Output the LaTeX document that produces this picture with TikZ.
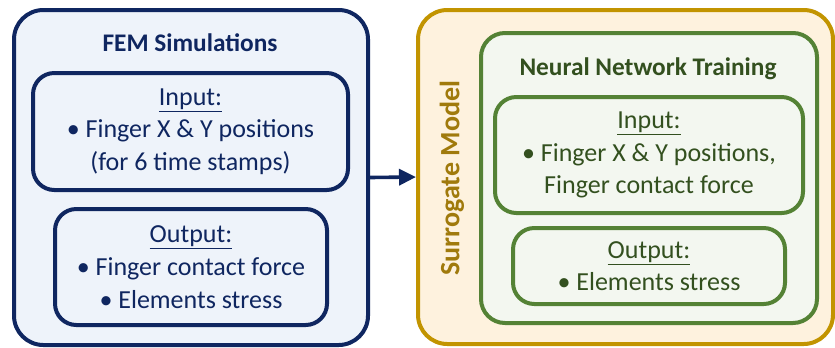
\documentclass[tikz,border=0pt]{standalone}
\usepackage{fontspec}
\setmainfont{Carlito}
\usepackage{tikz}
\usetikzlibrary{positioning,arrows.meta}
\definecolor{femnavy}{HTML}{0F2660}
\definecolor{femfill}{HTML}{EEF3FA}
\definecolor{surrgold}{HTML}{C29400}
\definecolor{surrtext}{HTML}{A07A0C}
\definecolor{surrfill}{HTML}{FEF2DE}
\definecolor{nngreen}{HTML}{548235}
\definecolor{nntext}{HTML}{33501F}
\definecolor{nnfill}{HTML}{F3F7F0}

\begin{document}
\begin{tikzpicture}[x=0.75pt, y=-0.75pt,
    frame/.style={draw, line width=3pt, rounded corners=22pt},
    box/.style={draw, line width=3pt, rounded corners=16pt, align=center,
                font=\fontsize{19.5}{24.5}\selectfont},
    title/.style={font=\fontsize{19}{22}\selectfont\bfseries},
    flow/.style={line width=2.7pt, -{Triangle[length=12.75pt, width=12pt]}},
]
\useasboundingbox (0,0) rectangle (835,347);

% FEM side
\node[frame, draw=femnavy, fill=femfill, minimum width=265.5pt,
      minimum height=251.25pt] (fem) at (191,177.5) {};
\node[title, text=femnavy] (femtitle) at (190,43) {FEM Simulations};
\node[box, draw=femnavy, text=femnavy, minimum width=236.25pt,
      minimum height=87.75pt] (femin) at (190.5,131.5)
    {\underline{Input:}\\ \textbullet{} Finger X \& Y positions\\ (for 6 time stamps)};
\node[box, draw=femnavy, text=femnavy, minimum width=204pt,
      minimum height=87pt] (femout) at (191,267)
    {\underline{Output:}\\ \textbullet{} Finger contact force\\ \textbullet{} Elements stress};

% surrogate side
\node[frame, draw=surrgold, fill=surrfill, minimum width=311.25pt,
      minimum height=250.5pt] (surr) at (625.5,177) {};
\node[title, text=surrtext, rotate=90, font=\fontsize{21}{24}\selectfont\bfseries]
    (surrlabel) at (452,178) {Surrogate Model};
\node[frame, draw=nngreen, fill=nnfill, rounded corners=18pt,
      minimum width=252pt, minimum height=217.5pt] (nn) at (649,178) {};
\node[title, text=nntext] (nntitle) at (648,69) {Neural Network Training};
\node[box, draw=nngreen, text=nntext, minimum width=231pt,
      minimum height=87pt] (nnin) at (649,155)
    {\underline{Input:}\\ \textbullet{} Finger X \& Y positions,\\ Finger contact force};
\node[box, draw=nngreen, text=nntext, minimum width=204pt,
      minimum height=57pt] (nnout) at (649,266)
    {\underline{Output:}\\ \textbullet{} Elements stress};

\draw[flow, femnavy] (fem.east) -- (surr.west);
\end{tikzpicture}
\end{document}
